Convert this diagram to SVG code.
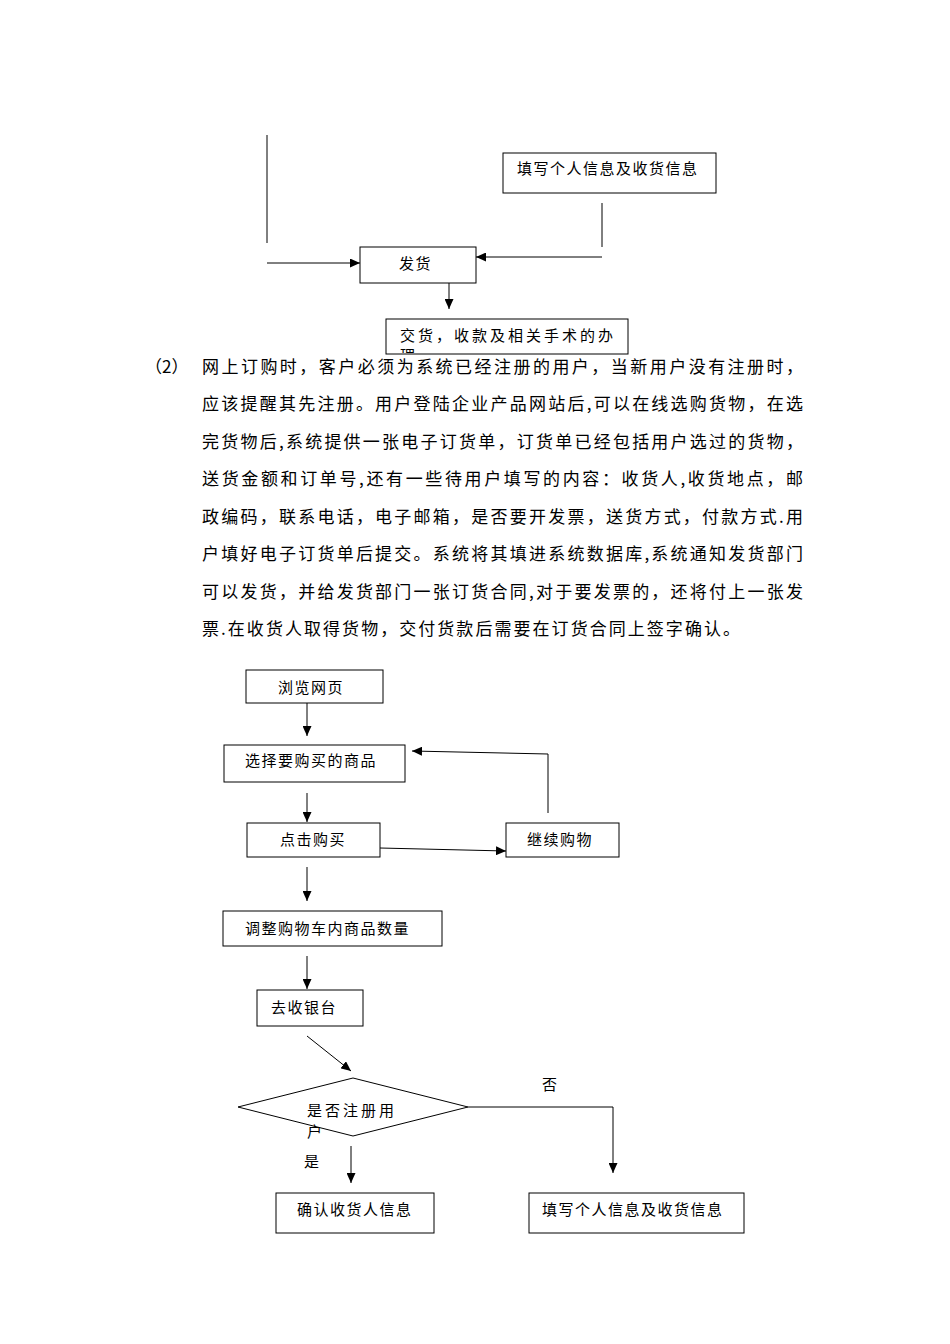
<svg xmlns="http://www.w3.org/2000/svg" width="950" height="1344" viewBox="0 0 950 1344">
<style>
.box{fill:#fff;stroke:#000;stroke-width:1}
.ln{fill:none;stroke:#000;stroke-width:1}
.t{font-family:'Noto Sans CJK SC','Noto Sans CJK JP',sans-serif;font-size:15px;letter-spacing:1.5px;fill:#000}
.p{font-family:'Noto Sans CJK SC','Noto Sans CJK JP',sans-serif;font-size:17px;fill:#000}
</style>
<defs>
<marker id="ah" markerUnits="userSpaceOnUse" markerWidth="10" markerHeight="9" refX="10" refY="4.5" orient="auto">
<path d="M0,0 L10,4.5 L0,9 z" fill="#000"/>
</marker>
<clipPath id="clipJ"><rect x="387" y="320" width="240" height="33"/></clipPath>
</defs>
<rect width="950" height="1344" fill="#fff"/>

<g id="paragraph">
<text class="p" x="145" y="372.5">（2）</text>
<text class="p" x="202" y="372.5" textLength="601" lengthAdjust="spacing">网上订购时，客户必须为系统已经注册的用户，当新用户没有注册时，</text>
<text class="p" x="202" y="410" textLength="601" lengthAdjust="spacing">应该提醒其先注册。用户登陆企业产品网站后,可以在线选购货物，在选</text>
<text class="p" x="202" y="447.5" textLength="601" lengthAdjust="spacing">完货物后,系统提供一张电子订货单，订货单已经包括用户选过的货物，</text>
<text class="p" x="202" y="485" textLength="601" lengthAdjust="spacing">送货金额和订单号,还有一些待用户填写的内容：收货人,收货地点，邮</text>
<text class="p" x="202" y="522.5" textLength="601" lengthAdjust="spacing">政编码，联系电话，电子邮箱，是否要开发票，送货方式，付款方式.用</text>
<text class="p" x="202" y="560" textLength="601" lengthAdjust="spacing">户填好电子订货单后提交。系统将其填进系统数据库,系统通知发货部门</text>
<text class="p" x="202" y="597.5" textLength="601" lengthAdjust="spacing">可以发货，并给发货部门一张订货合同,对于要发票的，还将付上一张发</text>
<text class="p" x="202" y="635" textLength="538" lengthAdjust="spacing">票.在收货人取得货物，交付货款后需要在订货合同上签字确认。</text>
</g>

<g id="connectors">
<line class="ln" x1="267" y1="135" x2="267" y2="243"/>
<line class="ln" x1="602" y1="203" x2="602" y2="247"/>
<line class="ln" x1="267" y1="263" x2="360" y2="263" marker-end="url(#ah)"/>
<line class="ln" x1="602" y1="257" x2="476" y2="257" marker-end="url(#ah)"/>
<line class="ln" x1="449" y1="283" x2="449" y2="309" marker-end="url(#ah)"/>

<line class="ln" x1="307" y1="703" x2="307" y2="736" marker-end="url(#ah)"/>
<line class="ln" x1="307" y1="793" x2="307" y2="822" marker-end="url(#ah)"/>
<line class="ln" x1="380" y1="848" x2="506" y2="851" marker-end="url(#ah)"/>
<polyline class="ln" points="548,813 548,754 412,751" marker-end="url(#ah)"/>
<line class="ln" x1="307" y1="867" x2="307" y2="901" marker-end="url(#ah)"/>
<line class="ln" x1="307" y1="956" x2="307" y2="989" marker-end="url(#ah)"/>
<line class="ln" x1="307" y1="1036" x2="351" y2="1071" marker-end="url(#ah)"/>
<line class="ln" x1="351" y1="1146" x2="351" y2="1183" marker-end="url(#ah)"/>
<polyline class="ln" points="468,1107 613,1107 613,1173" marker-end="url(#ah)"/>
<text class="t" x="542" y="1090">否</text>
<text class="t" x="304" y="1167">是</text>
</g>

<g id="n_fill_top">
<rect class="box" x="503" y="153" width="213" height="40"/>
<text class="t" x="517" y="173.5">填写个人信息及收货信息</text>
</g>
<g id="n_ship">
<rect class="box" x="360" y="247" width="116" height="36"/>
<text class="t" x="399" y="268.5">发货</text>
</g>
<g id="n_deliver">
<rect class="box" x="386" y="319" width="242" height="35"/>
<g clip-path="url(#clipJ)">
<text class="t" x="400" y="340.5" style="letter-spacing:3px">交货，收款及相关手术的办</text>
<text class="t" x="400" y="361" style="letter-spacing:3px">理</text>
</g>
</g>

<g id="n_browse">
<rect class="box" x="246" y="670" width="137" height="33"/>
<text class="t" x="278" y="692.5">浏览网页</text>
</g>
<g id="n_select">
<rect class="box" x="224" y="745" width="181" height="37"/>
<text class="t" x="245" y="765.5">选择要购买的商品</text>
</g>
<g id="n_click">
<rect class="box" x="247" y="823" width="133" height="34"/>
<text class="t" x="280" y="844.5">点击购买</text>
</g>
<g id="n_continue">
<rect class="box" x="506" y="823" width="113" height="34"/>
<text class="t" x="527" y="844.5">继续购物</text>
</g>
<g id="n_adjust">
<rect class="box" x="223" y="911" width="219" height="35"/>
<text class="t" x="245" y="933.5">调整购物车内商品数量</text>
</g>
<g id="n_checkout">
<rect class="box" x="257" y="990" width="106" height="36"/>
<text class="t" x="271" y="1012.5">去收银台</text>
</g>
<g id="n_registered">
<polygon class="box" points="238,1107 353,1078 468,1107 353,1136"/>
<text class="t" x="307" y="1116" style="letter-spacing:3px">是否注册用</text>
<text class="t" x="307" y="1137">户</text>
</g>
<g id="n_confirm">
<rect class="box" x="276" y="1193" width="158" height="40"/>
<text class="t" x="297" y="1214.5">确认收货人信息</text>
</g>
<g id="n_fill_bottom">
<rect class="box" x="529" y="1193" width="215" height="40"/>
<text class="t" x="542" y="1214.5">填写个人信息及收货信息</text>
</g>
</svg>
